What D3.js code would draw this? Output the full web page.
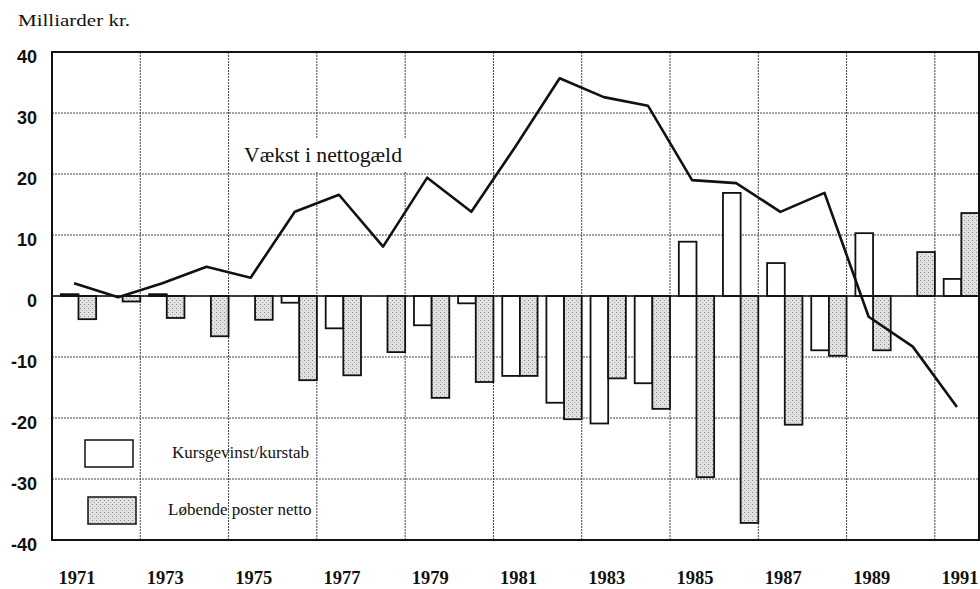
<!DOCTYPE html>
<html>
<head>
<meta charset="utf-8">
<script src="https://cdn.jsdelivr.net/npm/d3@7"></script>
<style>
  body { margin: 0; background: #fff; }
  text { font-family: "Liberation Serif", "DejaVu Serif", serif; fill: #111; }
</style>
</head>
<body>
<div id="vis"></div>
<script>
// values, milliarder kr.
var years = d3.range(1971, 1992);
var kursgevinst = [0.3, 0, 0.3, 0, 0, -1.1, -5.3, 0, -4.8, -1.2, -13.1, -17.5, -20.9, -14.3, 8.9, 16.9, 5.4, -8.9, 10.3, 0, 2.8];
var lobende = [-3.8, -0.9, -3.6, -6.6, -3.9, -13.8, -13, -9.2, -16.7, -14.1, -13.1, -20.2, -13.5, -18.5, -29.7, -37.2, -21.1, -9.8, -8.9, 7.2, 13.6];
var vaekst = [2.1, -0.2, 2.1, 4.8, 3.0, 13.8, 16.6, 8.1, 19.4, 13.8, 24.5, 35.7, 32.6, 31.2, 19.0, 18.5, 13.8, 16.9, -3.4, -8.3, -18.2];
var yTicks = [-40, -30, -20, -10, 0, 10, 20, 30, 40];
var yearLabels = [1971, 1973, 1975, 1977, 1979, 1981, 1983, 1985, 1987, 1989, 1991];

var width = 980, height = 589;
var mLeft = 52, mRight = 979, mTop = 52, mBottom = 540;

var svg = d3.select("#vis")
  .append("svg")
  .attr("width", width)
  .attr("height", height);

// dotted grey fill for "Løbende poster netto"
var pat = svg.append("defs").append("pattern")
  .attr("id", "dots")
  .attr("patternUnits", "userSpaceOnUse")
  .attr("width", 4).attr("height", 4);
pat.append("rect").attr("width", 4).attr("height", 4).attr("fill", "#e2e2e2");
pat.append("rect").attr("x", 0).attr("y", 0).attr("width", 1).attr("height", 1).attr("fill", "#888");
pat.append("rect").attr("x", 2).attr("y", 2).attr("width", 1).attr("height", 1).attr("fill", "#aaa");

var x = d3.scaleBand().domain(years).range([mLeft, mRight]).padding(0);
var bw = x.bandwidth();
var xSub = d3.scaleBand().domain(["kurs", "lob"]).range([bw * 0.2, bw]).padding(0);
var y = d3.scaleLinear().domain([-40, 40]).range([mBottom, mTop]);

// grid
svg.append("g").selectAll("line")
  .data(yTicks)
  .enter().append("line")
  .attr("x1", mLeft).attr("x2", mRight)
  .attr("y1", d => y(d)).attr("y2", d => y(d))
  .attr("stroke", "#444").attr("stroke-width", 1)
  .attr("stroke-dasharray", "2,1");

svg.append("g").selectAll("line")
  .data(yearLabels)
  .enter().append("line")
  .attr("x1", d => x(d)).attr("x2", d => x(d))
  .attr("y1", mTop).attr("y2", mBottom)
  .attr("stroke", "#444").attr("stroke-width", 1)
  .attr("stroke-dasharray", "2,1");

// bars
function barY(v) { return v >= 0 ? y(v) : y(0); }
function barH(v) { return Math.abs(y(v) - y(0)); }

svg.append("g").selectAll("rect")
  .data(years.map((d, i) => ({ year: d, v: kursgevinst[i] })))
  .enter().append("rect")
  .attr("x", d => x(d.year) + xSub("kurs"))
  .attr("width", xSub.bandwidth())
  .attr("y", d => barY(d.v))
  .attr("height", d => barH(d.v))
  .attr("fill", "#fff")
  .attr("stroke", "#111")
  .attr("stroke-width", 1.8);

svg.append("g").selectAll("rect")
  .data(years.map((d, i) => ({ year: d, v: lobende[i] })))
  .enter().append("rect")
  .attr("x", d => x(d.year) + xSub("lob"))
  .attr("width", xSub.bandwidth())
  .attr("y", d => barY(d.v))
  .attr("height", d => barH(d.v))
  .attr("fill", "url(#dots)")
  .attr("stroke", "#111")
  .attr("stroke-width", 1.8);

// zero line
svg.append("line")
  .attr("x1", mLeft).attr("x2", mRight)
  .attr("y1", y(0)).attr("y2", y(0))
  .attr("stroke", "#111").attr("stroke-width", 1.5);

// line label with white backing
var lbl = svg.append("text")
  .attr("x", 244).attr("y", 162)
  .attr("textLength", 158)
  .attr("lengthAdjust", "spacingAndGlyphs")
  .style("font-size", "21px")
  .text("Vækst i nettogæld");
var bb = lbl.node().getBBox();
svg.insert("rect", "text")
  .attr("x", bb.x - 8).attr("y", bb.y - 4)
  .attr("width", bb.width + 16).attr("height", bb.height + 8)
  .attr("fill", "#fff");

// line
var line = d3.line()
  .x((d, i) => x(years[i]) + bw / 2)
  .y(d => y(d));

svg.append("path")
  .datum(vaekst)
  .attr("d", line)
  .attr("fill", "none")
  .attr("stroke", "#111")
  .attr("stroke-width", 2.6)
  .attr("stroke-linejoin", "round");

// frame
svg.append("rect")
  .attr("x", mLeft).attr("y", mTop)
  .attr("width", mRight - mLeft).attr("height", mBottom - mTop)
  .attr("fill", "none")
  .attr("stroke", "#111")
  .attr("stroke-width", 2);

// y labels
svg.append("g").selectAll("text")
  .data(yTicks)
  .enter().append("text")
  .attr("x", 37)
  .attr("y", d => y(d) + 11)
  .attr("text-anchor", "end")
  .style("font-family", "'Liberation Sans', Arial, sans-serif")
  .style("font-size", "18px")
  .style("font-weight", "bold")
  .text(d => d);

// x labels
svg.append("g").selectAll("text")
  .data(yearLabels)
  .enter().append("text")
  .attr("x", d => x(d) + bw / 2 + 3)
  .attr("y", 584)
  .attr("text-anchor", "middle")
  .attr("textLength", 37)
  .attr("lengthAdjust", "spacingAndGlyphs")
  .style("font-size", "18px")
  .style("font-weight", "bold")
  .text(d => d);

svg.append("text")
  .attr("x", 18).attr("y", 26)
  .attr("textLength", 112)
  .attr("lengthAdjust", "spacingAndGlyphs")
  .style("font-size", "17px")
  .text("Milliarder kr.");

// legend
svg.append("rect")
  .attr("x", 85).attr("y", 440).attr("width", 48).attr("height", 27)
  .attr("fill", "#fff").attr("stroke", "#111").attr("stroke-width", 1.5);
svg.append("text")
  .attr("x", 172).attr("y", 458)
  .style("font-size", "17px")
  .text("Kursgevinst/kurstab");

svg.append("rect")
  .attr("x", 88).attr("y", 497).attr("width", 48).attr("height", 27)
  .attr("fill", "url(#dots)").attr("stroke", "#111").attr("stroke-width", 1.5);
svg.append("text")
  .attr("x", 168).attr("y", 515)
  .style("font-size", "17px")
  .text("Løbende poster netto");
</script>
</body>
</html>
